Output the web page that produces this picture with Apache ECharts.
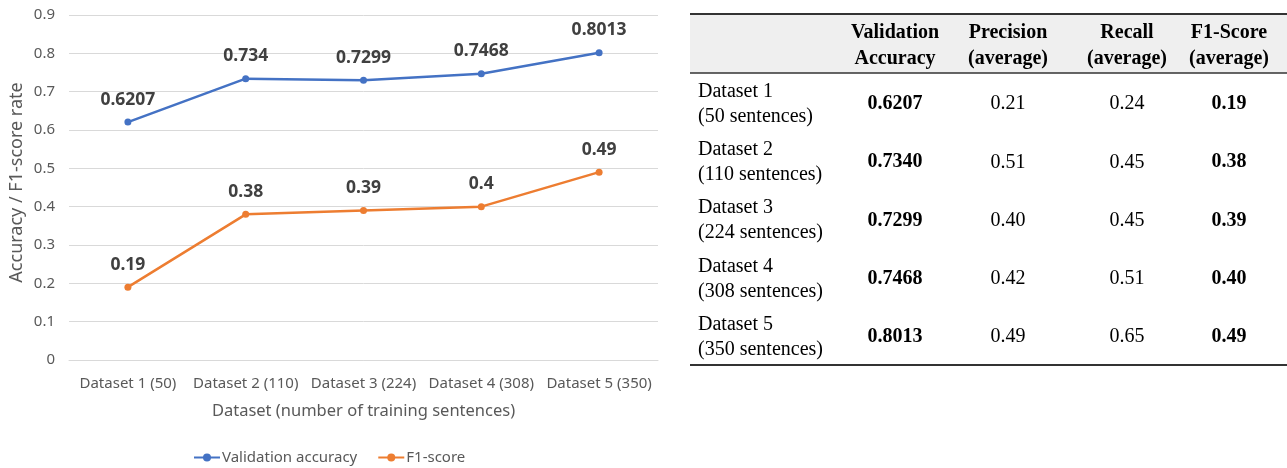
<!DOCTYPE html>
<html><head><meta charset="utf-8">
<script src="https://cdn.jsdelivr.net/npm/echarts@6/dist/echarts.min.js"></script>
<style>html,body{margin:0;padding:0;background:#fff}#c{width:1287px;height:468px}</style>
</head><body><div id="c"></div>
<script>
var categories = ['Dataset 1 (50)', 'Dataset 2 (110)', 'Dataset 3 (224)', 'Dataset 4 (308)', 'Dataset 5 (350)'];
var validationAccuracy = [0.6207, 0.734, 0.7299, 0.7468, 0.8013];
var f1Score = [0.19, 0.38, 0.39, 0.4, 0.49];

var tableHeaders = ['Validation\nAccuracy', 'Precision\n(average)', 'Recall\n(average)', 'F1-Score\n(average)'];
var rowLabels = ['Dataset 1\n(50 sentences)', 'Dataset 2\n(110 sentences)', 'Dataset 3\n(224 sentences)', 'Dataset 4\n(308 sentences)', 'Dataset 5\n(350 sentences)'];
var tableValAcc = ['0.6207', '0.7340', '0.7299', '0.7468', '0.8013'];
var tablePrecision = ['0.21', '0.51', '0.40', '0.42', '0.49'];
var tableRecall = ['0.24', '0.45', '0.45', '0.51', '0.65'];
var tableF1 = ['0.19', '0.38', '0.39', '0.40', '0.49'];

var chart = echarts.init(document.getElementById('c'), null, {renderer: 'canvas'});
var sansFont = '"Noto Sans", "Open Sans", sans-serif';
var serif = '"Liberation Serif", "DejaVu Serif", serif';

// table graphics
var tLeft = 690, tRight = 1287, tTop = 14, headBottom = 73, tBottom = 365;
var colX = [895, 1008, 1127, 1229];
var headY = 46;
var rowY0 = 104, rowStep = 58.3;
var g = [];
g.push({type: 'rect', shape: {x: tLeft, y: tTop, width: tRight - tLeft, height: headBottom - tTop}, style: {fill: '#efefef'}, silent: true});
g.push({type: 'line', shape: {x1: tLeft, y1: tTop, x2: tRight, y2: tTop}, style: {stroke: '#333', lineWidth: 2}, silent: true});
g.push({type: 'line', shape: {x1: tLeft, y1: headBottom, x2: tRight, y2: headBottom}, style: {stroke: '#333', lineWidth: 1.5}, silent: true});
g.push({type: 'line', shape: {x1: tLeft, y1: tBottom, x2: tRight, y2: tBottom}, style: {stroke: '#333', lineWidth: 2}, silent: true});
tableHeaders.forEach(function (h, j) {
  g.push({type: 'text', x: colX[j], y: headY, silent: true,
    style: {text: h, font: 'bold 20px ' + serif, fill: '#000', align: 'center', verticalAlign: 'middle', lineHeight: 26}});
});
var cols = [tableValAcc, tablePrecision, tableRecall, tableF1];
var boldCols = [true, false, false, true];
rowLabels.forEach(function (r, i) {
  var y = rowY0 + i * rowStep;
  g.push({type: 'text', x: 698, y: y, silent: true,
    style: {text: r, font: '20px ' + serif, fill: '#000', align: 'left', verticalAlign: 'middle', lineHeight: 25}});
  cols.forEach(function (col, j) {
    g.push({type: 'text', x: colX[j], y: y, silent: true,
      style: {text: col[i], font: (boldCols[j] ? 'bold ' : '') + '20px ' + serif, fill: '#000', align: 'center', verticalAlign: 'middle'}});
  });
});

var labelStyle = {show: true, position: 'top', distance: 10, fontSize: 17.5, fontWeight: 'bold', color: '#404040', fontFamily: sansFont};

chart.setOption({
  animation: false,
  textStyle: {fontFamily: sansFont},
  grid: {left: 69, right: 629, top: 15, bottom: 108, containLabel: false},
  legend: {
    left: 188, top: 445, itemWidth: 26, itemHeight: 10, itemGap: 20,
    textStyle: {fontSize: 15, color: '#595959', fontFamily: sansFont, padding: [0, 0, 0, -3]},
    data: ['Validation accuracy', 'F1-score']
  },
  xAxis: {
    type: 'category', data: categories, boundaryGap: true,
    axisLine: {show: true, lineStyle: {color: '#d9d9d9'}},
    axisTick: {show: false},
    axisLabel: {fontSize: 15, color: '#595959', margin: 16, interval: 0},
    name: 'Dataset (number of training sentences)', nameLocation: 'middle', nameGap: 43,
    nameTextStyle: {fontSize: 16.5, color: '#595959'}
  },
  yAxis: {
    type: 'value', min: 0, max: 0.9, interval: 0.1,
    axisLine: {show: false}, axisTick: {show: false},
    axisLabel: {fontSize: 15, color: '#595959', margin: 14},
    splitLine: {lineStyle: {color: '#d9d9d9', width: 1}},
    name: 'Accuracy / F1-score rate', nameLocation: 'middle', nameGap: 43,
    nameTextStyle: {fontSize: 18, color: '#595959', padding: [0, 0, 0, 10]}
  },
  series: [
    {name: 'Validation accuracy', type: 'line', data: validationAccuracy, symbol: 'circle', symbolSize: 7,
      lineStyle: {width: 2.5, color: '#4472C4'}, itemStyle: {color: '#4472C4'}, label: labelStyle},
    {name: 'F1-score', type: 'line', data: f1Score, symbol: 'circle', symbolSize: 7,
      lineStyle: {width: 2.5, color: '#ED7D31'}, itemStyle: {color: '#ED7D31'}, label: labelStyle}
  ],
  graphic: g
});
</script></body></html>
